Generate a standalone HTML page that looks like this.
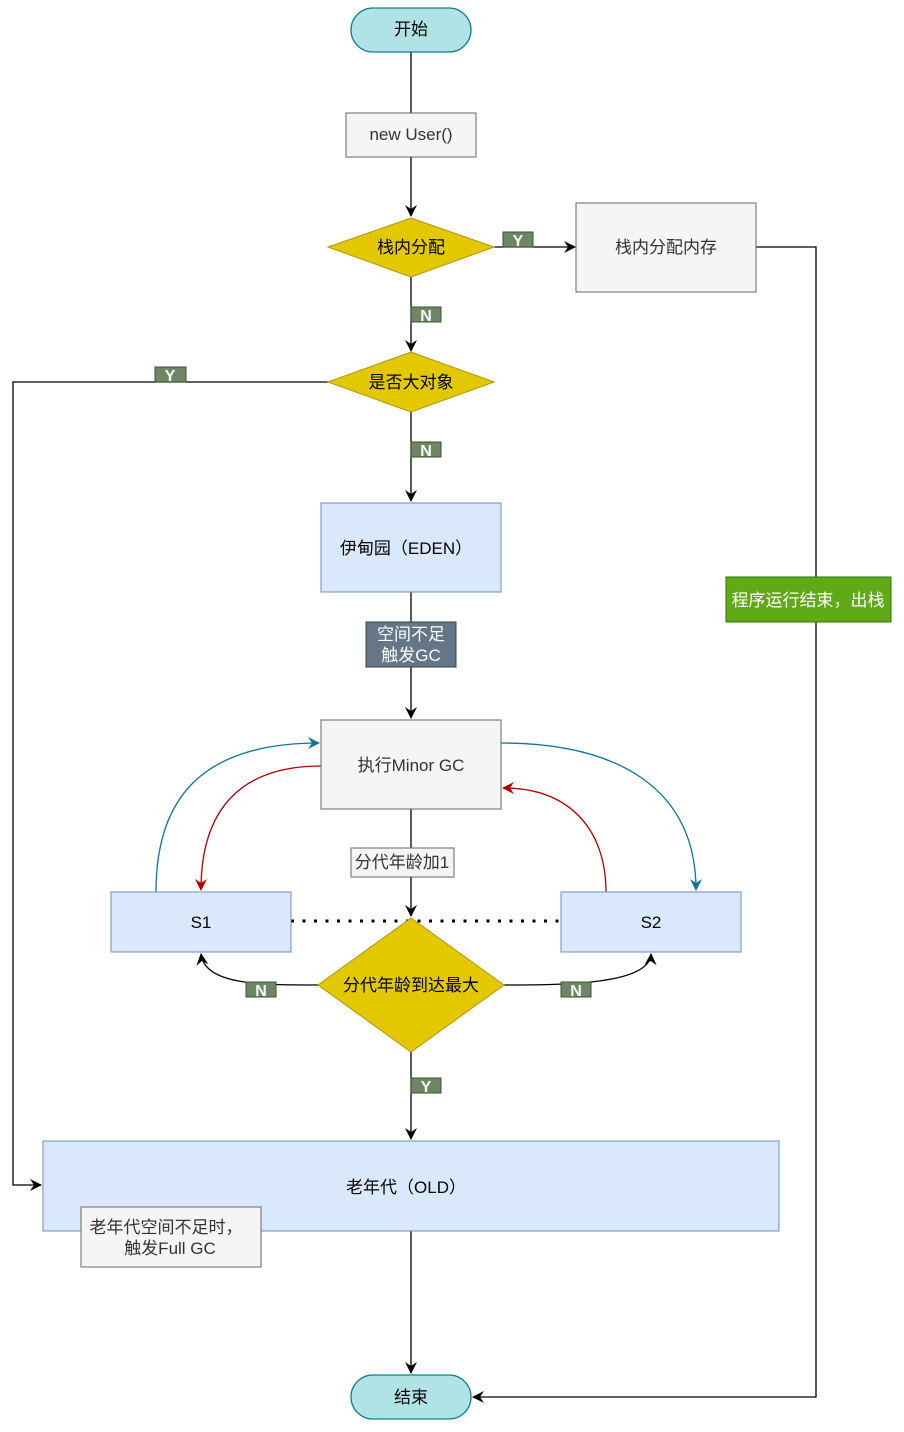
<!DOCTYPE html>
<html><head><meta charset="utf-8"><style>
html,body{margin:0;padding:0;background:#fff;}
svg{display:block;font-family:"Liberation Sans","Noto Sans CJK SC",sans-serif;}
</style></head><body>
<svg width="904" height="1432" viewBox="0 0 904 1432" xmlns="http://www.w3.org/2000/svg">
<defs>
<marker id="a" markerWidth="12" markerHeight="12" refX="11" refY="6" orient="auto" markerUnits="userSpaceOnUse"><path d="M0,0 L12,6 L0,12 L4,6 Z" fill="#000"/></marker>
<marker id="ab" markerWidth="12" markerHeight="12" refX="11" refY="6" orient="auto" markerUnits="userSpaceOnUse"><path d="M0,0 L12,6 L0,12 L4,6 Z" fill="#10739e"/></marker>
<marker id="ar" markerWidth="12" markerHeight="12" refX="11" refY="6" orient="auto" markerUnits="userSpaceOnUse"><path d="M0,0 L12,6 L0,12 L4,6 Z" fill="#b20000"/></marker>
</defs>
<g stroke="#000" stroke-width="1.3" fill="none">
<line x1="411" y1="52" x2="411" y2="113"/>
<line x1="411" y1="157" x2="411" y2="216" marker-end="url(#a)"/>
<line x1="494" y1="247" x2="575" y2="247" marker-end="url(#a)"/>
<line x1="411" y1="277" x2="411" y2="351" marker-end="url(#a)"/>
<line x1="411" y1="412" x2="411" y2="501" marker-end="url(#a)"/>
<line x1="411" y1="592" x2="411" y2="718" marker-end="url(#a)"/>
<line x1="411" y1="809" x2="411" y2="916" marker-end="url(#a)"/>
<path d="M411,1052 L411,1139" marker-end="url(#a)"/>
<line x1="411" y1="1231" x2="411" y2="1373" marker-end="url(#a)"/>
<path d="M756,247 H816 V1397 H473" marker-end="url(#a)"/>
<path d="M328,382 H13 V1185 H41" marker-end="url(#a)"/>
<path d="M318,985 C260,985 205,985 201,954" marker-end="url(#a)"/>
<path d="M504,985 C560,985 650,985 651,954" marker-end="url(#a)"/>
<line x1="291" y1="921" x2="561" y2="921" stroke-width="3" stroke-dasharray="3,8.5"/>
</g>
<g fill="none" stroke-width="1.3">
<path d="M156,892 C156,800 200,743 319,743" stroke="#10739e" marker-end="url(#ab)"/>
<path d="M321,766 C240,766 201,810 201,890" stroke="#b20000" marker-end="url(#ar)"/>
<path d="M501,743 C620,743 696,790 696,890" stroke="#10739e" marker-end="url(#ab)"/>
<path d="M606,892 C606,830 570,788 503,788" stroke="#b20000" marker-end="url(#ar)"/>
</g>
<rect x="351" y="8" width="120" height="44" rx="22" fill="#b0e3e6" stroke="#0e8088" stroke-width="1.3"/>
<rect x="346" y="113" width="130" height="44" fill="#f5f5f5" stroke="#666"/>
<polygon points="328,247 411,218 494,247 411,277" fill="#e3c800" stroke="#b09500"/>
<rect x="576" y="203" width="180" height="89" fill="#f5f5f5" stroke="#666"/>
<polygon points="328,382 411,352 494,382 411,412" fill="#e3c800" stroke="#b09500"/>
<rect x="321" y="503" width="180" height="89" fill="#dae8fc" stroke="#6c8ebf"/>
<rect x="366" y="622" width="90" height="45" fill="#647687" stroke="#314354"/>
<rect x="321" y="720" width="180" height="89" fill="#f5f5f5" stroke="#666"/>
<rect x="351" y="848" width="103" height="29" fill="#f5f5f5" stroke="#666"/>
<rect x="111" y="892" width="180" height="60" fill="#dae8fc" stroke="#6c8ebf"/>
<rect x="561" y="892" width="180" height="60" fill="#dae8fc" stroke="#6c8ebf"/>
<polygon points="318,985 411,918 504,985 411,1052" fill="#e3c800" stroke="#b09500"/>
<rect x="43" y="1141" width="736" height="90" fill="#dae8fc" stroke="#6c8ebf"/>
<rect x="81" y="1207" width="180" height="60" fill="#f5f5f5" stroke="#666"/>
<rect x="351" y="1375" width="120" height="44" rx="22" fill="#b0e3e6" stroke="#0e8088" stroke-width="1.3"/>
<rect x="726" y="577" width="165" height="45" fill="#60a917" stroke="#2d7600"/>
<g fill="#6d8764" stroke="#3a5431">
<rect x="503" y="232" width="30" height="15"/>
<rect x="411" y="307" width="30" height="15"/>
<rect x="155" y="367" width="31" height="15"/>
<rect x="411" y="442" width="30" height="15"/>
<rect x="246" y="982" width="30" height="15"/>
<rect x="561" y="982" width="30" height="15"/>
<rect x="411" y="1078" width="30" height="15"/>
</g>
<g fill="#fff" font-size="16" font-weight="bold" text-anchor="middle">
<text x="518" y="246">Y</text><text x="426" y="321">N</text><text x="170" y="381">Y</text>
<text x="426" y="456">N</text><text x="261" y="996">N</text><text x="576" y="996">N</text><text x="426" y="1092">Y</text>
</g>
<g font-size="17" text-anchor="middle" fill="#333">
<text x="411" y="35" fill="#000">开始</text>
<text x="411" y="140">new User()</text>
<text x="411" y="253" fill="#000">栈内分配</text>
<text x="666" y="253">栈内分配内存</text>
<text x="411" y="388" fill="#000">是否大对象</text>
<text x="406" y="554" fill="#000">伊甸园（EDEN）</text>
<text x="411" y="640" fill="#fff">空间不足</text>
<text x="411" y="661" fill="#fff">触发GC</text>
<text x="411" y="771">执行Minor GC</text>
<text x="402" y="868">分代年龄加1</text>
<text x="201" y="928" fill="#000">S1</text>
<text x="651" y="928" fill="#000">S2</text>
<text x="411" y="991" fill="#000">分代年龄到达最大</text>
<text x="406" y="1193" fill="#000">老年代（OLD）</text>
<text x="166" y="1233">老年代空间不足时，</text>
<text x="170" y="1254">触发Full GC</text>
<text x="411" y="1403" fill="#000">结束</text>
<text x="808" y="606" fill="#fff">程序运行结束，出栈</text>
</g>
</svg>
</body></html>
